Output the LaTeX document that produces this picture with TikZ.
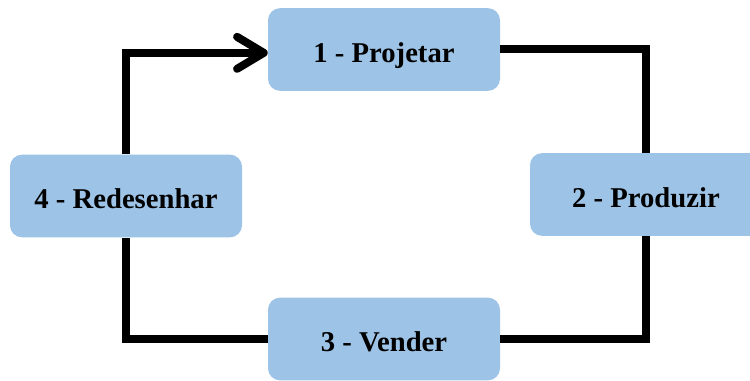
\documentclass[tikz,border=0pt]{standalone}
\usepackage{fontspec}
\setmainfont{Liberation Serif}
\usetikzlibrary{arrows.meta}
\definecolor{boxblue}{HTML}{9DC3E6}
\begin{document}
\begin{tikzpicture}[x=0.75pt,y=-0.75pt,
  stage/.style={fill=boxblue, rounded corners=9pt, minimum width=174pt,
    minimum height=62pt, inner sep=0pt},
  stagetext/.style={yshift=-2pt, inner sep=0pt, text depth=0pt,
    font=\bfseries\fontsize{21.5}{26}\selectfont},
  flow/.style={line width=6pt, line join=miter, black}]
  \useasboundingbox (0,0) rectangle (750,381);
  \clip (0,0) rectangle (750,381);
  % the four stages of the cycle
  \node[stage] (proj) at (384,49.5) {};
  \node[stage] (prod) at (646,194.5) {};
  \node[stage] (vend) at (384,339) {};
  \node[stage] (rede) at (126,196) {};
  \node[stagetext] (tproj) at (proj) {1 - Projetar};
  \node[stagetext] (tprod) at (prod) {2 - Produzir};
  \node[stagetext] (tvend) at (vend) {3 - Vender};
  \node[stagetext] (trede) at (rede) {4 - Redesenhar};
  % connectors, clockwise
  \draw[flow] (proj.east) -| (prod.north);
  \draw[flow] (prod.south) |- (vend.east);
  \draw[flow] (vend.west) -| (rede.south);
  \draw[flow, -{Straight Barb[length=20pt,width=24pt,round]}]
    (rede.north) |- ([yshift=-2.5pt]proj.west);
\end{tikzpicture}
\end{document}
